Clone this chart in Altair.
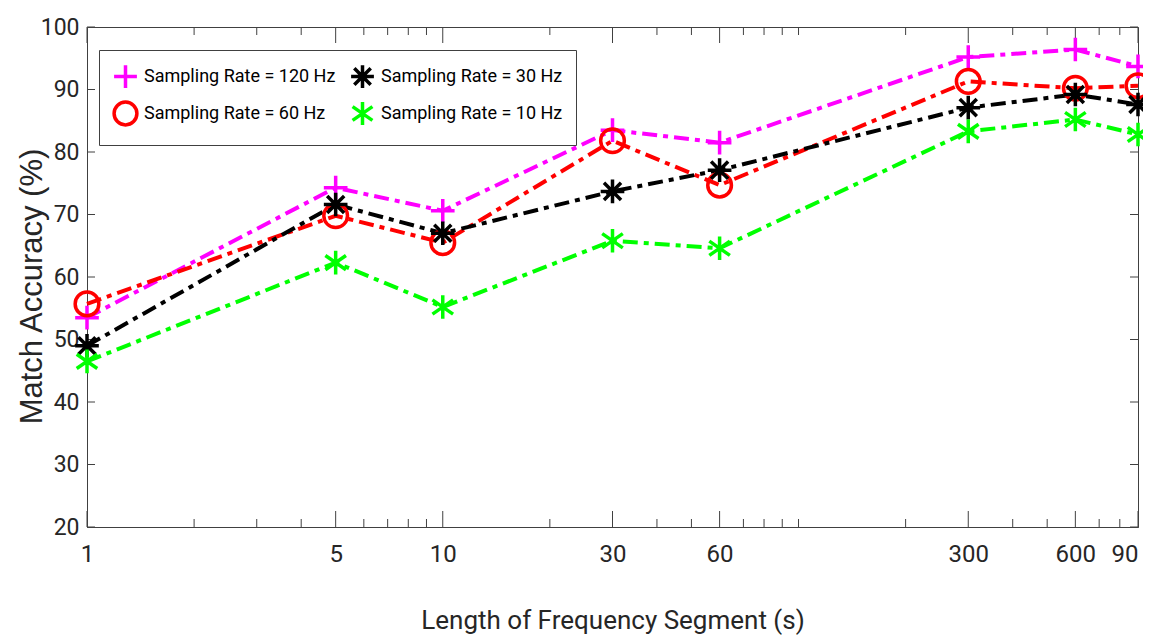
import altair as alt
import pandas as pd

# ---------------- data ----------------
segment_lengths = [1, 5, 10, 30, 60, 300, 600, 900]
acc_120hz = [53.5, 74.3, 70.6, 83.5, 81.5, 95.2, 96.4, 93.7]
acc_60hz = [55.7, 69.8, 65.5, 81.8, 74.7, 91.3, 90.2, 90.6]
acc_30hz = [49.0, 71.6, 67.0, 73.7, 77.1, 87.1, 89.2, 87.6]
acc_10hz = [46.5, 62.3, 55.2, 65.8, 64.6, 83.3, 85.2, 82.8]

series_labels = [
    "Sampling Rate = 120 Hz",
    "Sampling Rate = 60 Hz",
    "Sampling Rate = 30 Hz",
    "Sampling Rate = 10 Hz",
]
series_values = [acc_120hz, acc_60hz, acc_30hz, acc_10hz]
series_colors = ["#ff00ff", "#ff0000", "#000000", "#00ff00"]
series_shapes = [
    "M-1,0L1,0M0,-1L0,1",
    "circle",
    "M0,-1L0,1M-1,0L1,0M-0.72,-0.72L0.72,0.72M-0.72,0.72L0.72,-0.72",
    "M0,-1L0,1M-0.87,-0.6L0.87,0.6M-0.87,0.6L0.87,-0.6",
]

x_major_ticks = [1, 5, 10, 30, 60, 300, 600, 900]
x_minor_ticks = [2, 3, 4, 6, 7, 8, 9, 20, 40, 50, 70, 80, 90, 100, 200, 400, 500, 700, 800]
y_ticks = [20, 30, 40, 50, 60, 70, 80, 90, 100]

rows = []
for name, vals in zip(series_labels, series_values):
    for x, v in zip(segment_lengths, vals):
        rows.append({"seg": x, "acc": v, "series": name})
df = pd.DataFrame(rows)

df_major = pd.DataFrame({"seg": x_major_ticks})
df_minor = pd.DataFrame({"seg": x_minor_ticks})
df_y = pd.DataFrame({"acc": y_ticks})

# ---------------- styling ----------------
W, H = 1051, 500
AX = "#404040"
NARROW = "Roboto, Liberation Sans, sans-serif"
REG = "Liberation Sans, Arial, sans-serif"

xs = alt.Scale(type="log", domain=[1, 900], nice=False)
ys = alt.Scale(domain=[20, 100], nice=False, zero=False)

legend_def = alt.Legend(
    title=None,
    orient="none",
    legendX=12,
    legendY=23,
    columns=2,
    columnPadding=8,
    rowPadding=0,
    padding=13,
    strokeColor=AX,
    fillColor="white",
    labelFont=NARROW,
    labelFontSize=18,
    labelColor="#000000",
    labelOffset=5,
    symbolSize=520,
    symbolStrokeWidth=3.5,
    labelLimit=400,
)
color = alt.Color("series:N", scale=alt.Scale(domain=series_labels, range=series_colors), legend=legend_def)
shape = alt.Shape("series:N", scale=alt.Scale(domain=series_labels, range=series_shapes), legend=legend_def)

x_axis = alt.Axis(
    values=x_major_ticks,
    labelExpr="datum.value == 900 ? '90' : '' + datum.value",
    labelAlign=alt.ConditionalAxisLabelAlign(
        condition={"test": "datum.value == 900", "value": "right"}, value="center"
    ),
    title="Length of Frequency Segment (s)",
    titleFont=NARROW,
    titleFontSize=26,
    titleFontWeight="normal",
    titleColor="#262626",
    titlePadding=41,
    labelFont=NARROW,
    labelFontSize=24,
    labelColor="#262626",
    labelPadding=15,
    labelOverlap=False,
    labelFlush=False,
    labelBound=False,
    ticks=False,
    grid=False,
    domainColor=AX,
)
y_axis = alt.Axis(
    values=y_ticks,
    title="Match Accuracy (%)",
    titleFont=REG,
    titleFontSize=31,
    titleFontWeight="normal",
    titleColor="#262626",
    titlePadding=-8,
    titleY=259,
    labelFont=NARROW,
    labelFontSize=23,
    labelColor="#262626",
    labelPadding=8,
    ticks=False,
    grid=False,
    domainColor=AX,
)

def xe():
    return alt.X("seg:Q", scale=xs, axis=x_axis)

def ye():
    return alt.Y("acc:Q", scale=ys, axis=y_axis)

lines = alt.Chart(df).mark_line(strokeWidth=4, strokeDash=[15, 6, 5, 6]).encode(
    x=xe(), y=ye(), color=color, detail="series:N"
)
points = alt.Chart(df).mark_point(filled=False, strokeWidth=3.5, size=560, opacity=1).encode(
    x=xe(), y=ye(), color=color, shape=shape
)

def xtick(data, y0, y1):
    return alt.Chart(data).mark_rule(color=AX, strokeWidth=1).encode(
        x=xe(), y=alt.value(y0), y2=alt.value(y1)
    )

def ytick(x0, x1):
    return alt.Chart(df_y).mark_rule(color=AX, strokeWidth=1).encode(
        y=ye(), x=alt.value(x0), x2=alt.value(x1)
    )

ticks = [
    xtick(df_major, H, H - 16),
    xtick(df_minor, H, H - 8),
    xtick(df_major, 0, 16),
    xtick(df_minor, 0, 8),
    ytick(0, 8),
    ytick(W, W - 8),
]

chart = (
    alt.layer(lines, *ticks, points)
    .properties(
        width=W,
        height=H,
        autosize=alt.AutoSizeParams(type="none"),
        padding={"left": 79, "top": 19, "right": 5, "bottom": 114},
        background="white",
    )
    .configure_view(stroke=AX, strokeWidth=1)
)

chart.save("out.html", embed_options={"renderer": "svg", "actions": False})
